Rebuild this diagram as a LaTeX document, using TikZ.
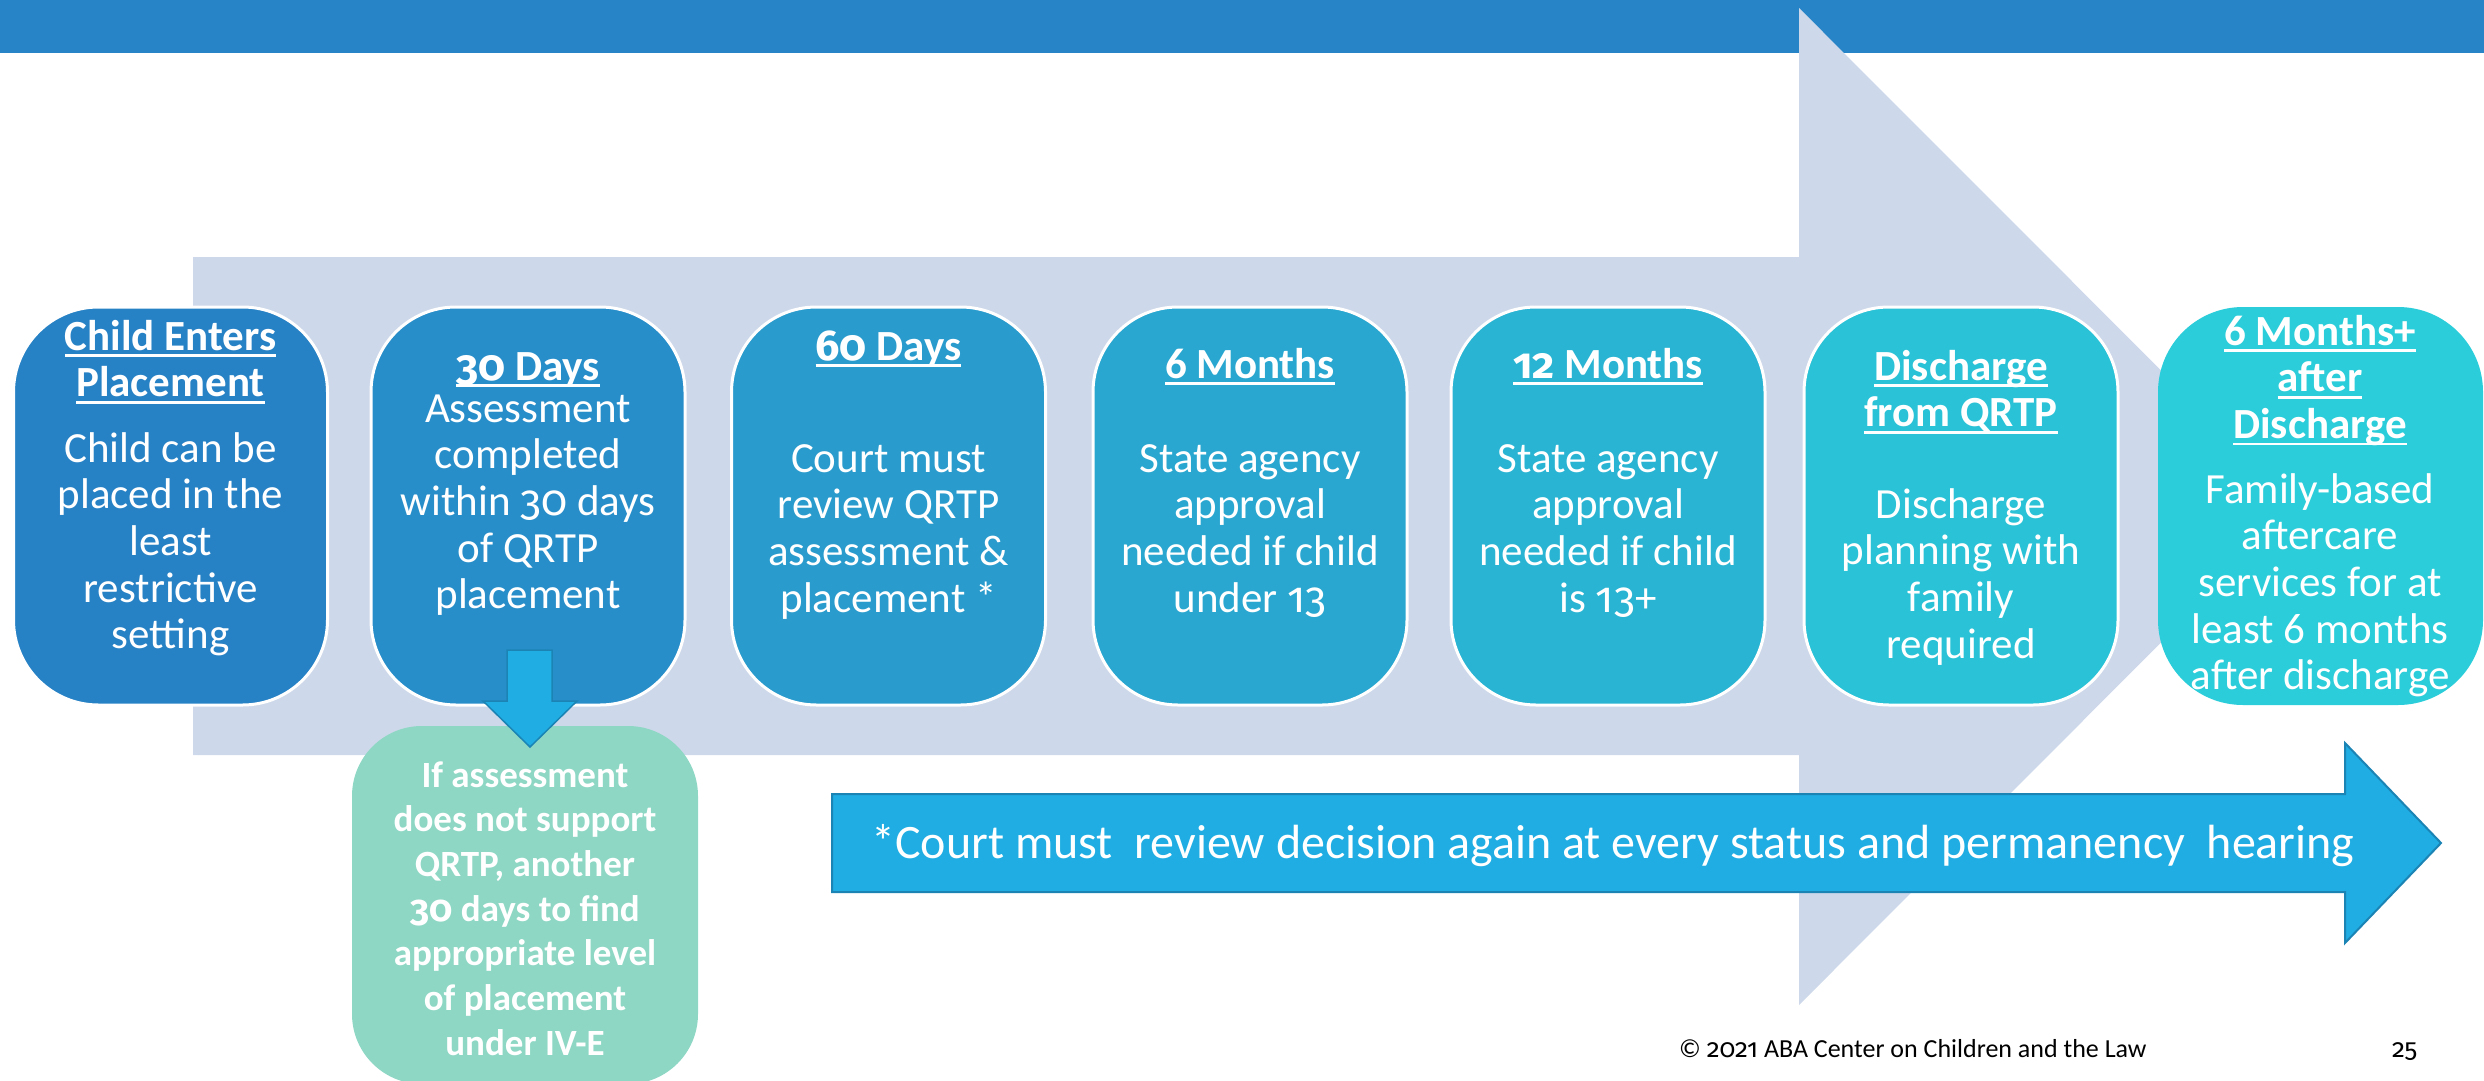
\documentclass[tikz,border=0pt]{standalone}
\usepackage{fontspec}
\setmainfont{Carlito}
\newfontfamily\osf{Fira Sans}[Numbers=OldStyle]
\newcommand\on[1]{{\osf #1}}
\newsavebox\ulbox
\newcommand\ulin[1]{\sbox\ulbox{#1}\rlap{\usebox\ulbox}\rule[-6.8pt]{\wd\ulbox}{2.7pt}}
\definecolor{topbar}{HTML}{2784C6}
\definecolor{ghost}{HTML}{CDD8EA}
\definecolor{cA}{HTML}{2781C5}
\definecolor{cB}{HTML}{288ECA}
\definecolor{cC}{HTML}{2A9BCD}
\definecolor{cD}{HTML}{29A7D0}
\definecolor{cE}{HTML}{29B4D3}
\definecolor{cF}{HTML}{29C2D6}
\definecolor{cG}{HTML}{2ACDD9}
\definecolor{mint}{HTML}{8ED7C4}
\definecolor{arrowblue}{HTML}{1FADE3}
\definecolor{arrowedge}{HTML}{1B84B4}
\newcommand\stk[1]{\begin{tabular}[t]{@{}c@{}}#1\end{tabular}}
\begin{document}
\begin{tikzpicture}[x=1pt,y=-1pt,
  stage/.style={rounded corners=85pt, minimum width=314pt, minimum height=398pt, inner sep=0pt},
  wborder/.style={draw=white, line width=3pt},
  ttl/.style={anchor=base, inner sep=0pt, text=white, font=\fontsize{43pt}{46.7pt}\selectfont\bfseries},
  bdy/.style={anchor=base, inner sep=0pt, text=white, font=\fontsize{43pt}{46.7pt}\selectfont}]
\useasboundingbox (0,0) rectangle (2484,1081);
% top bar
\fill[topbar] (0,0) rectangle (2484,53);
% big ghost arrow
\fill[ghost] (193,257) -- (1799,257) -- (1799,8) -- (2297,506.5) -- (1799,1005) -- (1799,755) -- (193,755) -- cycle;
% stage boxes
\node[stage, wborder, fill=cA] (s1) at (170.5,506) {};
\node[stage, wborder, fill=cB] (s2) at (528,506) {};
\node[stage, wborder, fill=cC] (s3) at (888.5,506) {};
\node[stage, wborder, fill=cD] (s4) at (1250,506) {};
\node[stage, wborder, fill=cE] (s5) at (1608,506) {};
\node[stage, wborder, fill=cF] (s6) at (1961,506) {};
\node[stage, fill=cG, minimum width=325pt] (s7) at (2320.5,506) {};
% texts
\node[ttl] (t1) at (170.5,350) {\stk{\ulin{Child Enters}\\\ulin{Placement}}};
\node[bdy] (b1) at (170.5,462) {\stk{Child can be\\placed in the\\least\\restrictive\\setting}};
\node[ttl] (t2) at (528,380) {\ulin{\on{30} Days}};
\node[bdy] (b2) at (528,422) {\stk{Assessment\\completed\\within \on{30} days\\of QRTP\\placement}};
\node[ttl] (t3) at (888.5,360) {\ulin{\on{60} Days}};
\node[bdy] (b3) at (888.5,472) {\stk{Court must\\review QRTP\\assessment \&\\placement *}};
\node[ttl] (t4) at (1250,378) {\ulin{6 Months}};
\node[bdy] (b4) at (1250,472) {\stk{State agency\\approval\\needed if child\\under \on{13}}};
\node[ttl] (t5) at (1608,378) {\ulin{\on{12} Months}};
\node[bdy] (b5) at (1608,472) {\stk{State agency\\approval\\needed if child\\is \on{13}+}};
\node[ttl] (t6) at (1961,380) {\stk{\ulin{Discharge}\\\ulin{from QRTP}}};
\node[bdy] (b6) at (1961,518) {\stk{Discharge\\planning with\\family\\required}};
\node[ttl] (t7) at (2320,345) {\stk{\ulin{6 Months+}\\\ulin{after}\\\ulin{Discharge}}};
\node[bdy] (b7) at (2320,503) {\stk{Family-based\\aftercare\\services for at\\least 6 months\\after discharge}};
% green box
\node[fill=mint, rounded corners=70pt, minimum width=346pt, minimum height=358pt, inner sep=0pt] (g) at (525,905) {};
\node[anchor=base, inner sep=0pt, text=white, font=\fontsize{37pt}{44.7pt}\selectfont\bfseries] (gt) at (525,787)
  {\stk{If assessment\\does not support\\QRTP, another\\\on{30} days to find\\appropriate level\\of placement\\under IV-E}};
% down arrow from s2 to g
\filldraw[fill=arrowblue, draw=arrowedge, line width=1.5pt, line join=miter]
  (507,650) -- (552,650) -- (552,701) -- (577,701) -- (530,747) -- (483,701) -- (507,701) -- cycle;
% bottom review arrow
\filldraw[fill=arrowblue, draw=arrowedge, line width=2pt, line join=miter]
  (832,794) -- (2345,794) -- (2345,743) -- (2441,843) -- (2345,943) -- (2345,892) -- (832,892) -- cycle;
\node[anchor=base, inner sep=0pt, text=white, font=\fontsize{48pt}{56pt}\selectfont] (note) at (1613,858)
  {*Court must\ \ review decision again at every status and permanency\ \ hearing};
% footer
\node[anchor=base west, inner sep=0pt, text=black, font=\fontsize{26pt}{30pt}\selectfont] (copy) at (1679,1057)
  {\textcopyright{} \on{2021} ABA Center on Children and the Law};
\node[anchor=base west, inner sep=0pt, text=black, font=\fontsize{26pt}{30pt}\selectfont] (page) at (2392,1057) {\on{25}};
\end{tikzpicture}
\end{document}
